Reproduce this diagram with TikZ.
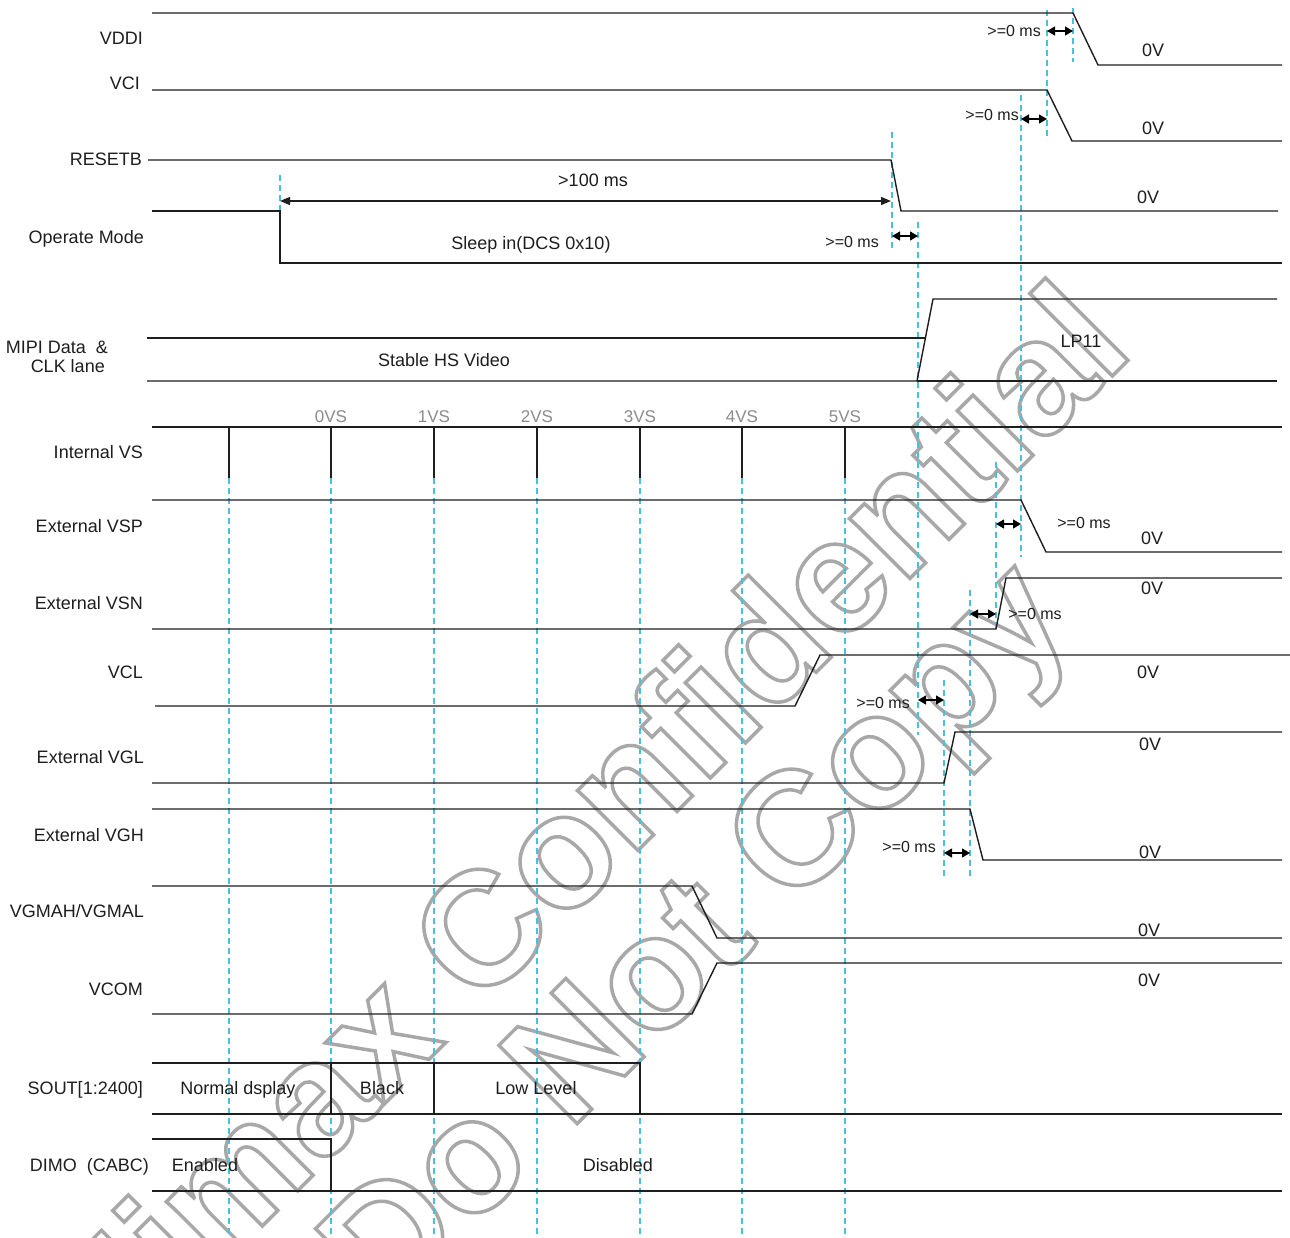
\documentclass[tikz,border=0pt]{standalone}
\usepackage{fontspec}
\setmainfont{Liberation Sans}
\usetikzlibrary{arrows.meta}
\definecolor{sig}{HTML}{1E1E1E}
\definecolor{guide}{HTML}{45C3DA}
\definecolor{vsgray}{HTML}{8C8C8C}
\definecolor{wmgray}{HTML}{A8A8A8}
\tikzset{
  sigline/.style={line width=1.4pt, draw=sig, line join=miter},
  guideline/.style={line width=1.2pt, draw=guide, dash pattern=on 6pt off 4pt},
  lbl/.style={font=\fontsize{18}{20}\selectfont, text=sig, anchor=east, inner sep=0pt, text height=13pt, text depth=0pt},
  txt/.style={font=\fontsize{18}{20}\selectfont, text=sig, inner sep=0pt, text height=13pt, text depth=0pt},
  smalltxt/.style={font=\fontsize{16}{18}\selectfont, text=sig, inner sep=0pt, text height=11.5pt, text depth=0pt},
  vslbl/.style={font=\fontsize{17}{19}\selectfont, text=vsgray, inner sep=0pt, text height=12.2pt, text depth=0pt},
  gaparrow/.style={line width=1.2pt, draw=black, {Triangle[length=8pt,width=9pt]}-{Triangle[length=8pt,width=9pt]}},
  longarrow/.style={line width=1.2pt, draw=sig, {Triangle[length=10pt,width=8pt]}-{Triangle[length=10pt,width=8pt]}},
  watermark/.style={rotate=45, inner sep=0pt, text=wmgray, font=\fontsize{161}{161}\selectfont\bfseries},
}
\newcommand{\outlinetext}[1]{\special{pdf:literal direct 1 Tr 3.5 w}#1\special{pdf:literal direct 0 Tr}}
\begin{document}
\begin{tikzpicture}[x=1pt,y=-1pt]
\useasboundingbox (0,0) rectangle (1290,1237);
\fill[white] (0,0) rectangle (1290,1237);

% watermark
\node[watermark] (wmA) at (580,827) {\outlinetext{Himax Confidential}};
\node[watermark] (wmB) at (703,942) {\outlinetext{Do Not Copy}};

% guide lines
\foreach \gx/\ga/\gb in {1047/10/140, 1073/8/62, 1021/95/557, 892/132/250, 918/222/735, 280/175/263, 996/462/630, 970/590/878, 944/680/878}
  \draw[guideline] (\gx,\ga) -- (\gx,\gb);
\foreach \gx in {229,331,434,537,640,742,845}
  \draw[guideline] (\gx,478) -- (\gx,1237);

% labels
\node[lbl] (lVDDI) at (143,38) {VDDI};
\node[lbl] (lVCI) at (140,83) {VCI};
\node[lbl] (lRST) at (142,159) {RESETB};
\node[lbl] (lOM) at (144,237) {Operate Mode};
\node[lbl] (lMIPIa) at (108,347) {MIPI Data~~\&};
\node[lbl] (lMIPIb) at (105,366) {CLK lane};
\node[lbl] (lIVS) at (143,452) {Internal VS};
\node[lbl] (lVSP) at (143,526) {External VSP};
\node[lbl] (lVSN) at (143,603) {External VSN};
\node[lbl] (lVCL) at (143,672) {VCL};
\node[lbl] (lVGL) at (144,757) {External VGL};
\node[lbl] (lVGH) at (144,835) {External VGH};
\node[lbl] (lVGMA) at (144,911) {VGMAH/VGMAL};
\node[lbl] (lVCOM) at (143,989) {VCOM};
\node[lbl] (lSOUT) at (143,1088) {SOUT[1:2400]};
\node[lbl] (lDIMO) at (149,1165) {DIMO~~(CABC)};

% VDDI
\draw[sigline] (152,13) -- (1073,13) -- (1098,65) -- (1282,65);
\node[txt] (v1) at (1153,50) {0V};
\node[smalltxt, anchor=east] (t1) at (1041,31) {>=0 ms};
\draw[gaparrow] (1047,31) -- (1073,31);

% VCI
\draw[sigline] (152,90) -- (1047,90) -- (1072,141) -- (1282,141);
\node[txt] (v2) at (1153,128) {0V};
\node[smalltxt, anchor=east] (t2) at (1019,115) {>=0 ms};
\draw[gaparrow] (1021,119) -- (1047,119);

% RESETB
\draw[sigline] (148,160) -- (891,160) -- (901,211) -- (1278,211);
\node[txt] (v3) at (1148,197) {0V};
\node[txt] (t100) at (593,180) {>100 ms};
\draw[longarrow] (280,201) -- (891,201);

% Operate Mode
\draw[sigline] (152,211) -- (280,211) -- (280,263) -- (1282,263);
\node[txt] (tsleep) at (531,243) {Sleep in(DCS 0x10)};
\node[smalltxt, anchor=east] (t3) at (879,242) {>=0 ms};
\draw[gaparrow] (892,236) -- (918,236);

% MIPI
\draw[sigline] (147,338) -- (925,338);
\draw[sigline] (147,381) -- (917,381) -- (933,299) -- (1277,299);
\draw[sigline] (917,381) -- (1277,381);
\node[txt] (ths) at (444,360) {Stable HS Video};
\node[txt] (tlp) at (1081,341) {LP11};

% Internal VS
\draw[sigline] (152,427) -- (1282,427);
\foreach \gx in {229,331,434,537,640,742,845}
  \draw[sigline] (\gx,427) -- (\gx,478);
\foreach \gx/\gn in {331/0,434/1,537/2,640/3,742/4,845/5}
  \node[vslbl] at (\gx,416) {\gn VS};

% External VSP
\draw[sigline] (152,500) -- (1021,500) -- (1046,552) -- (1282,552);
\node[txt] (v4) at (1152,538) {0V};
\node[smalltxt] (t4) at (1084,523) {>=0 ms};
\draw[gaparrow] (996,524) -- (1021,524);

% External VSN
\draw[sigline] (152,629) -- (996,629) -- (1006,578) -- (1282,578);
\node[txt] (v5) at (1152,588) {0V};
\node[smalltxt] (t5) at (1035,614) {>=0 ms};
\draw[gaparrow] (970,614) -- (996,614);

% VCL
\draw[sigline] (155,706) -- (795,706) -- (820,655) -- (1290,655);
\node[txt] (v6) at (1148,672) {0V};
\node[smalltxt, anchor=east] (t6) at (910,703) {>=0 ms};
\draw[gaparrow] (918,700) -- (944,700);

% External VGL
\draw[sigline] (152,783) -- (944,783) -- (955,732) -- (1282,732);
\node[txt] (v7) at (1150,744) {0V};

% External VGH
\draw[sigline] (152,809) -- (970,809) -- (983,860) -- (1282,860);
\node[txt] (v8) at (1150,852) {0V};
\node[smalltxt, anchor=east] (t8) at (936,847) {>=0 ms};
\draw[gaparrow] (944,853) -- (970,853);

% VGMAH/VGMAL
\draw[sigline] (152,886) -- (692,886) -- (717,938) -- (1282,938);
\node[txt] (v9) at (1149,930) {0V};

% VCOM
\draw[sigline] (152,1014) -- (692,1014) -- (717,963) -- (1282,963);
\node[txt] (v10) at (1149,980) {0V};

% SOUT
\draw[sigline] (152,1063) -- (640,1063) -- (640,1114);
\draw[sigline] (152,1114) -- (1282,1114);
\draw[sigline] (331,1063) -- (331,1114);
\draw[sigline] (434,1063) -- (434,1114);
\node[txt] (tnorm) at (238,1088) {Normal dsplay};
\node[txt] (tblack) at (382,1088) {Black};
\node[txt] (tlow) at (536,1088) {Low Level};

% DIMO
\draw[sigline] (152,1139) -- (331,1139) -- (331,1191);
\draw[sigline] (152,1191) -- (1282,1191);
\node[txt] (ten) at (205,1165) {Enabled};
\node[txt] (tdis) at (618,1165) {Disabled};
\end{tikzpicture}
\end{document}
